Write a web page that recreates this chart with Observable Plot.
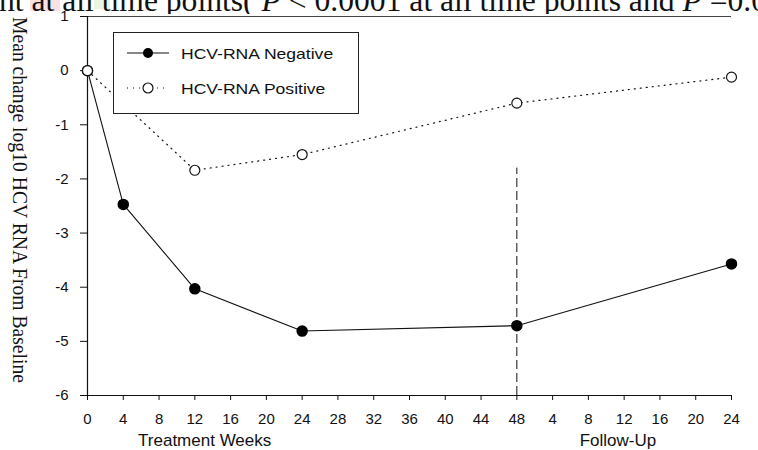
<!DOCTYPE html>
<html><head><meta charset="utf-8">
<script src="https://cdn.jsdelivr.net/npm/d3@7"></script>
<script src="https://cdn.jsdelivr.net/npm/@observablehq/plot@0.6"></script>
<style>
body{margin:0;background:#fff;}
#wrap{position:relative;width:758px;height:450px;overflow:hidden;font-family:"Liberation Sans",Arial,sans-serif;}
#legend{position:absolute;left:113px;top:32px;width:244px;height:80px;border:1px solid #222;background:#fff;font-size:15px;color:#111;}
.row{position:absolute;left:13px;height:20px;display:flex;align-items:center;}
.row span{margin-left:12px;display:inline-block;transform:scaleX(1.17);transform-origin:left center;}
</style></head>
<body><div id="wrap"></div>
<script>
const weeks = [0, 4, 12, 24, 48, 72];
const negative = [0, -2.47, -4.03, -4.81, -4.71, -3.57];
const posWeeks = [0, 12, 24, 48, 72];
const positive = [0, -1.84, -1.55, -0.6, -0.12];
const xTicks = d3.range(0, 73, 4);
const xTickLabel = d => d <= 48 ? String(d) : String(d - 48);
const yTicks = [-6, -5, -4, -3, -2, -1, 0, 1];
const groupLabels = [{x: 13.1, text: "Treatment Weeks"}, {x: 59.3, text: "Follow-Up"}];
const dividerWeek = 48, dividerTop = -1.8;
const headText = "nt at all time points( <tspan font-style='italic'>P</tspan> &lt; 0.0001 at all time points and <tspan font-style='italic'>P</tspan> =0.0";
const yTitle = "Mean change log10 HCV RNA From Baseline";
const legendLabels = ["HCV-RNA Negative", "HCV-RNA Positive"];

const neg = weeks.map((w, i) => ({w, v: negative[i]}));
const pos = posWeeks.map((w, i) => ({w, v: positive[i]}));

const plot = Plot.plot({
  width: 758, height: 450,
  marginLeft: 87, marginRight: 27, marginTop: 16, marginBottom: 55,
  x: {domain: [0, 72], ticks: xTicks, tickFormat: xTickLabel, tickSize: 5, tickPadding: 13, label: null},
  y: {domain: [-6, 1], ticks: yTicks, tickFormat: d => String(d), tickSize: 7, tickPadding: 12, label: null},
  style: {fontFamily: "Liberation Sans, Arial, sans-serif", fontSize: "15px", color: "#111", background: "#fff"},
  marks: [
    Plot.ruleY([1], {x1: 0, x2: 72, stroke: "#444", strokeWidth: 1}),
    Plot.ruleX([0], {y1: -6, y2: 1, stroke: "#111", strokeWidth: 1.2}),
    Plot.ruleY([-6], {x1: 0, x2: 72, stroke: "#111", strokeWidth: 1.2}),
    Plot.ruleX([dividerWeek], {y1: -6, y2: dividerTop, stroke: "#111", strokeDasharray: "9,4"}),
    Plot.line(pos, {x: "w", y: "v", stroke: "#111", strokeWidth: 1.2, strokeDasharray: "1,5"}),
    Plot.line(neg, {x: "w", y: "v", stroke: "#111", strokeWidth: 1.1}),
    Plot.dot(neg, {x: "w", y: "v", r: 5, fill: "#000", stroke: "#000"}),
    Plot.dot(pos, {x: "w", y: "v", r: 5, fill: "#fff", stroke: "#111", strokeWidth: 1.2}),
    Plot.text(groupLabels, {x: "x", y: -6, text: "text", dy: 45, fontSize: 17, fill: "#111"})
  ]
});
const wrap = document.getElementById("wrap");
wrap.appendChild(plot);

const head = document.createElementNS("http://www.w3.org/2000/svg", "svg");
head.setAttribute("width", 758); head.setAttribute("height", 14);
head.style.position = "absolute"; head.style.left = "0px"; head.style.top = "0px";
head.innerHTML = `<rect x="30" y="0" width="30" height="11" fill="#fbe1e1"/><rect x="94" y="0" width="16" height="9" fill="#e9f6e1"/>
<text x="-1" y="11" font-family="Liberation Serif, Times New Roman, serif" font-size="31" fill="#111" textLength="768" lengthAdjust="spacingAndGlyphs">${headText}</text>`;
wrap.appendChild(head);

const lg = document.createElement("div");
lg.id = "legend";
lg.innerHTML = `
<div class="row" style="top:10px"><svg width="42" height="12"><line x1="0" y1="6" x2="42" y2="6" stroke="#111" stroke-width="1.1"/><circle cx="21" cy="6" r="5" fill="#000"/></svg><span>${legendLabels[0]}</span></div>
<div class="row" style="top:45px"><svg width="42" height="12"><line x1="0" y1="6" x2="42" y2="6" stroke="#111" stroke-width="1.2" stroke-dasharray="1,5"/><circle cx="21" cy="6" r="5" fill="#fff" stroke="#111" stroke-width="1.2"/></svg><span>${legendLabels[1]}</span></div>`;
wrap.appendChild(lg);

const yl = document.createElementNS("http://www.w3.org/2000/svg", "svg");
yl.setAttribute("width", 40); yl.setAttribute("height", 380);
yl.style.position = "absolute"; yl.style.left = "0px"; yl.style.top = "10px";
yl.innerHTML = `<text transform="translate(13,190) rotate(90)" text-anchor="middle" font-family="Liberation Serif, Times New Roman, serif" font-size="21" fill="#111" textLength="366" lengthAdjust="spacingAndGlyphs">${yTitle}</text>`;
wrap.appendChild(yl);
</script></body></html>
